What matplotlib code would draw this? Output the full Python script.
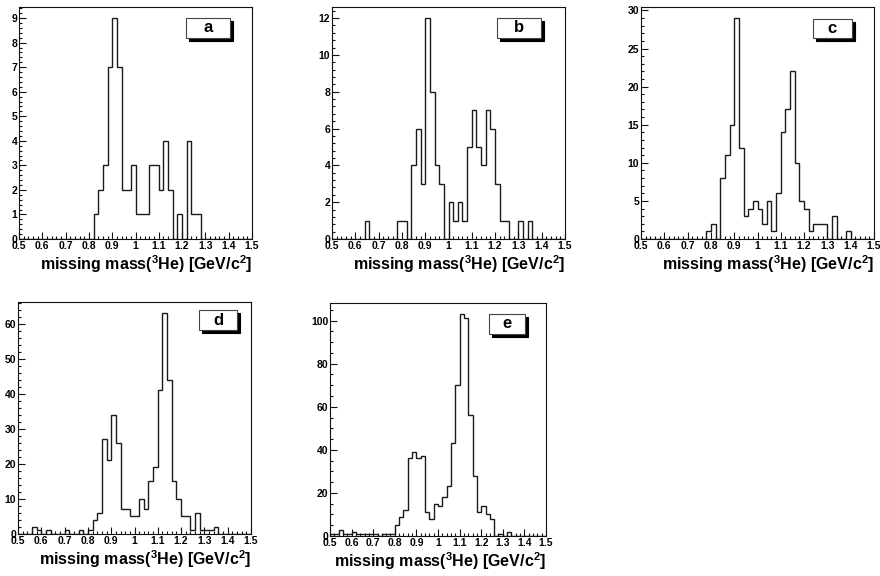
import numpy as np
import matplotlib
matplotlib.use("Agg")
import matplotlib.pyplot as plt
from matplotlib.patches import Rectangle
from matplotlib.ticker import MultipleLocator
import matplotlib.transforms as mtransforms

plt.rcParams['font.family'] = ['Liberation Sans', 'DejaVu Sans']

# Histogram: 50 bins from 0.5 to 1.5 GeV/c^2 (bin width 0.02)
x_min, x_max, n_bins = 0.5, 1.5, 50

counts_a = [0]*16 + [1, 2, 3, 7, 9, 7, 2, 2, 3, 1, 1, 1, 3, 3, 2, 4, 2, 0, 1, 0, 4, 1, 1] + [0]*11
counts_b = ([0]*7 + [1] + [0]*6 + [1, 1, 0, 4, 6, 3, 12, 8, 4, 3, 0, 2, 1, 2, 1, 5, 7, 5, 4, 7, 6, 3,
            1, 1, 0, 0, 1, 0, 1] + [0]*7)
counts_c = ([0]*14 + [1, 2, 0, 8, 11, 15, 29, 12, 3, 4, 5, 4, 2, 5, 1, 6, 14, 17, 22, 10, 5, 4,
            1, 2, 2, 2, 0, 3, 0, 0, 1] + [0]*5)
counts_d = ([0, 0, 0, 2, 1, 0, 1, 0, 0, 0, 1, 0, 0, 1, 0, 1, 4, 6, 27, 21, 34, 26, 7, 7, 5, 5,
            10, 7, 15, 19, 41, 63, 44, 15, 10, 5, 5, 1, 6, 1, 1, 1, 2] + [0]*7)
counts_e = ([1, 1, 3, 1, 1, 2, 1, 1, 1, 1, 1, 0, 1, 1, 1, 5, 9, 12, 36, 39, 36, 37, 11, 8, 15, 14,
            18, 23, 43, 70, 103, 101, 56, 28, 11, 14, 10, 8, 0, 1, 0, 2] + [0]*8)

panel_labels = ['a', 'b', 'c', 'd', 'e']
panel_counts = [counts_a, counts_b, counts_c, counts_d, counts_e]
y_major = [1, 2, 5, 10, 20]
y_minor = [0.2, 0.4, 1, 2, 5]
x_tick_values = [0.5, 0.6, 0.7, 0.8, 0.9, 1.0, 1.1, 1.2, 1.3, 1.4, 1.5]
x_tick_labels = ['0.5', '0.6', '0.7', '0.8', '0.9', '1', '1.1', '1.2', '1.3', '1.4', '1.5']
xlabel = 'missing mass($\\mathbf{^{3}}$He) [GeV/c$\\mathbf{^{2}}$]'

plt.rcParams['mathtext.fontset'] = 'custom'
plt.rcParams['mathtext.rm'] = 'Liberation Sans:bold'
plt.rcParams['mathtext.bf'] = 'Liberation Sans:bold'
plt.rcParams['mathtext.it'] = 'Liberation Sans:bold'

W, H = 880, 576
fig = plt.figure(figsize=(W/100, H/100), dpi=100)

# axes boxes in pixels: (left, top, right, bottom)
boxes = [(19, 7, 252, 239), (332, 7, 565, 239), (641, 7, 874, 239),
         (18, 302, 251, 534), (330, 303, 546, 536)]
# label box in axes fractions: (x0, x1, y0, y1)
lab_boxes = [(0.717, 0.905, 0.866, 0.953), (0.708, 0.895, 0.868, 0.953),
             (0.738, 0.905, 0.866, 0.950), (0.778, 0.94, 0.878, 0.965),
             (0.736, 0.905, 0.867, 0.953)]

edges = np.linspace(x_min, x_max, n_bins + 1)

for i, (lab, cnt) in enumerate(zip(panel_labels, panel_counts)):
    l, t, r, b = boxes[i]
    ax = fig.add_axes([l/W, 1 - b/H, (r - l)/W, (b - t)/H])
    ax.stairs(cnt, edges, color='#1a1a1a', lw=1.0)
    ax.set_xlim(x_min, x_max)
    ax.set_ylim(0, max(cnt)*1.05)
    for sp in ax.spines.values():
        sp.set_linewidth(0.8)
        sp.set_color('#111111')
    ax.set_xticks(x_tick_values)
    ax.set_xticklabels(x_tick_labels)
    ax.xaxis.set_minor_locator(MultipleLocator(0.02))
    ax.yaxis.set_major_locator(MultipleLocator(y_major[i]))
    ax.yaxis.set_minor_locator(MultipleLocator(y_minor[i]))
    ax.tick_params(which='both', direction='in', top=False, right=False, width=0.8, color='#111111')
    ax.tick_params(which='major', length=5, labelsize=7.5, pad=1.2)
    ax.tick_params(which='minor', length=2.5)
    for tl in ax.get_xticklabels() + ax.get_yticklabels():
        tl.set_fontweight('bold')
    ax.annotate(xlabel, xy=(1, 0), xycoords='axes fraction', xytext=(0, -25),
                textcoords='offset pixels', ha='right', va='center',
                fontsize=11.5, fontweight='bold')
    x0, x1, y0, y1 = lab_boxes[i]
    sh_tr = mtransforms.offset_copy(ax.transAxes, fig=fig, x=3, y=-3, units='dots')
    ax.add_patch(Rectangle((x0, y0), x1 - x0, y1 - y0, transform=sh_tr,
                           facecolor='black', edgecolor='black', lw=0.8, clip_on=False, zorder=5))
    ax.add_patch(Rectangle((x0, y0), x1 - x0, y1 - y0, transform=ax.transAxes,
                           facecolor='white', edgecolor='#444444', lw=0.8, clip_on=False, zorder=6))
    ax.text((x0 + x1)/2, (y0 + y1)/2, lab, transform=ax.transAxes, ha='center', va='center',
            fontsize=12, fontweight='bold', zorder=7)

fig.savefig('out.png', dpi=100, facecolor='white')
